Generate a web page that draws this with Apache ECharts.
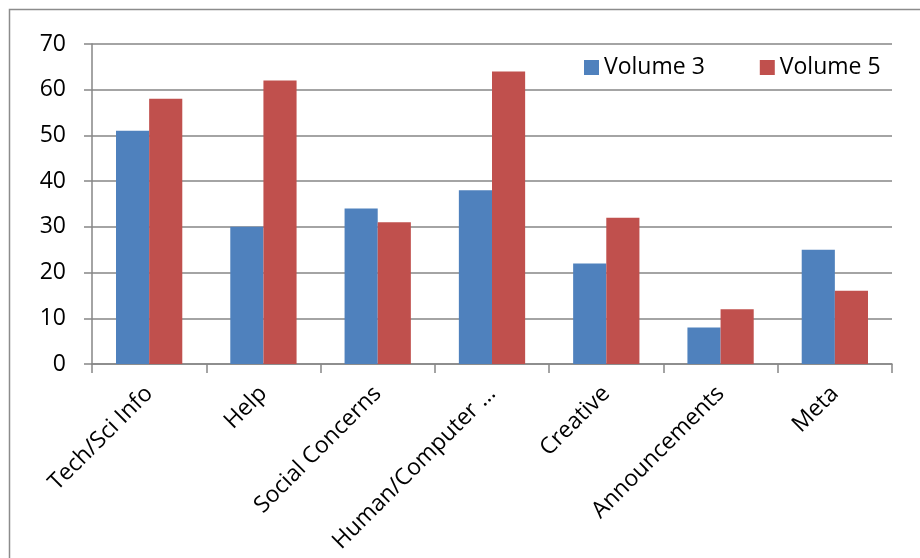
<!DOCTYPE html>
<html><head><meta charset="utf-8">
<script src="https://cdn.jsdelivr.net/npm/echarts@6/dist/echarts.min.js"></script>
<style>html,body{margin:0;padding:0;background:#fff}#c{width:920px;height:558px}</style>
</head><body><div id="c"></div>
<script>
const categories = ["Tech/Sci Info","Help","Social Concerns","Human/Computer …","Creative","Announcements","Meta"];
const volume3 = [51,30,34,38,22,8,25];
const volume5 = [58,62,31,64,32,12,16];
const seriesNames = ["Volume 3","Volume 5"];
const yTicks = {min:0,max:70,interval:10};

const chart = echarts.init(document.getElementById('c'), null, {renderer:'canvas'});
const font = "'Open Sans', 'Liberation Sans', sans-serif";
chart.setOption({
  animation:false,
  backgroundColor:'#fff',
  graphic:[{type:'rect',shape:{x:9.5,y:9.5,width:930,height:600},style:{fill:'none',stroke:'#8c8c8c',lineWidth:1.5},z:-1}],
  legend:{
    left:584, top:56, padding:0, itemWidth:15, itemHeight:15, itemGap:55,
    icon:'rect',
    textStyle:{fontFamily:font,fontSize:23,color:'#000'},
    data:seriesNames
  },
  grid:{left:92,right:28,top:44,bottom:194,containLabel:false,outerBoundsMode:'none'},
  xAxis:{
    type:'category', data:categories,
    axisLine:{lineStyle:{color:'#868686',width:1.5}},
    axisTick:{show:true,length:9,lineStyle:{color:'#868686',width:1.5}},
    axisLabel:{rotate:45,margin:26,interval:0,fontFamily:font,fontSize:23,color:'#000'}
  },
  yAxis:{
    type:'value', min:yTicks.min, max:yTicks.max, interval:yTicks.interval,
    axisLine:{show:true,lineStyle:{color:'#868686',width:1.5}},
    axisTick:{show:true,length:8,lineStyle:{color:'#868686',width:1.5}},
    splitLine:{lineStyle:{color:'#868686',width:1.5}},
    axisLabel:{margin:26,fontFamily:font,fontSize:23,color:'#000'}
  },
  series:[
    {name:seriesNames[0],type:'bar',data:volume3,barGap:'0%',barCategoryGap:'42%',itemStyle:{color:'#4F81BD'}},
    {name:seriesNames[1],type:'bar',data:volume5,barGap:'0%',barCategoryGap:'42%',itemStyle:{color:'#C0504D'}}
  ]
});
</script></body></html>
